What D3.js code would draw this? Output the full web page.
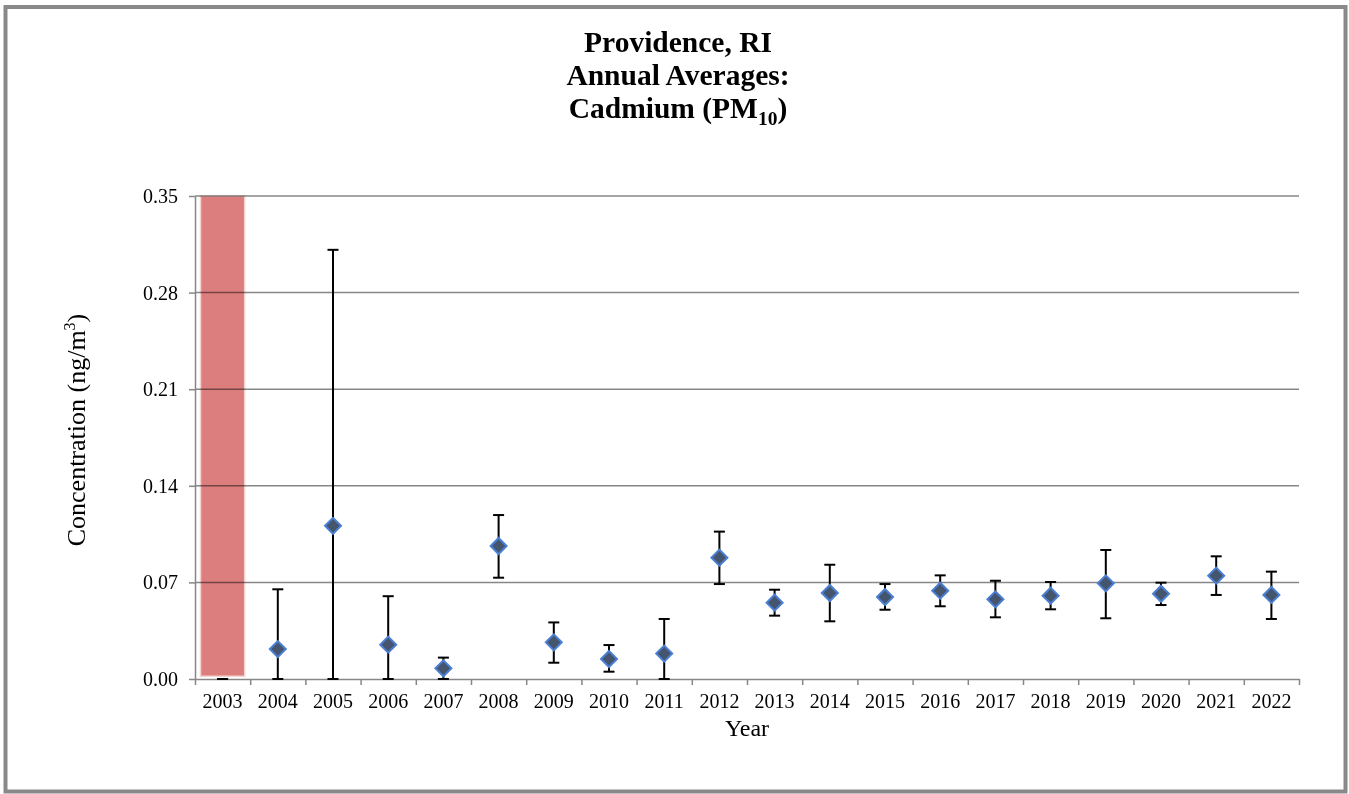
<!DOCTYPE html>
<html>
<head>
<meta charset="utf-8">
<script src="https://cdn.jsdelivr.net/npm/d3@7"></script>
<style>
  html, body { margin: 0; padding: 0; background: #fff; }
  svg { display: block; font-family: "Liberation Serif", "Times New Roman", serif; }
</style>
</head>
<body>
<svg id="chart" width="1349" height="794"></svg>
<script>
// Annual average cadmium (PM10) concentrations, ng/m3, with error bar limits
const years = ["2003","2004","2005","2006","2007","2008","2009","2010","2011","2012",
               "2013","2014","2015","2016","2017","2018","2019","2020","2021","2022"];
const means = [null, 0.0217, 0.111, 0.0249, 0.0077, 0.0964, 0.0266, 0.0145, 0.0184, 0.0879,
               0.0553, 0.0623, 0.0594, 0.064, 0.0577, 0.0604, 0.0693, 0.0618, 0.0749, 0.0609];
const lower = [0, 0, 0, 0, 0, 0.0734, 0.0118, 0.0053, 0, 0.0688,
               0.0459, 0.0418, 0.0502, 0.0527, 0.0447, 0.0505, 0.044, 0.0536, 0.0609, 0.0435];
const upper = [0, 0.065, 0.311, 0.060, 0.0155, 0.1188, 0.041, 0.0246, 0.0435, 0.1068,
               0.0647, 0.0828, 0.0688, 0.0751, 0.0712, 0.0703, 0.0935, 0.0698, 0.0889, 0.0778];
// Year without a full record, shaded across the full axis range
const shadedYears = ["2003"];
const shadeBase = 0.002;
const shadeTop = 0.35;
const yTicks = [0, 0.07, 0.14, 0.21, 0.28, 0.35];

const svg = d3.select("#chart");
const W = 1349, H = 794;
const plot = { left: 195, right: 1299, top: 196, bottom: 679 };

svg.append("rect").attr("width", W).attr("height", H).attr("fill", "#fff");
// outer frame
svg.append("rect")
  .attr("x", 5.5).attr("y", 7).attr("width", 1340).attr("height", 784.5)
  .attr("fill", "none").attr("stroke", "#898989").attr("stroke-width", 4);

const x = d3.scaleBand().domain(years).range([plot.left, plot.right]).padding(0);
const xEdge = d3.scaleLinear().domain([0, years.length]).range([plot.left, plot.right]);
const y = d3.scaleLinear().domain([0, 0.35]).range([plot.bottom, plot.top]);

// shaded bar
svg.append("g").selectAll("rect").data(shadedYears).join("rect")
  .attr("x", d => x(d) + x.bandwidth() * 0.1)
  .attr("width", x.bandwidth() * 0.8)
  .attr("y", y(shadeTop))
  .attr("height", y(shadeBase) - y(shadeTop))
  .attr("fill", "#dd7e7e")
  .attr("stroke", "#f3d2cf").attr("stroke-width", 1.5);

// horizontal gridlines
svg.append("g").selectAll("line").data(yTicks.slice(1)).join("line")
  .attr("x1", plot.left).attr("x2", plot.right)
  .attr("y1", d => y(d)).attr("y2", d => y(d))
  .attr("stroke", "#878787").attr("stroke-width", 1.5)
  .style("mix-blend-mode", "multiply");

// y axis
const yAxis = svg.append("g").attr("transform", `translate(${plot.left},0)`)
  .call(d3.axisLeft(y).tickValues(yTicks).tickFormat(d3.format(".2f"))
        .tickSize(6).tickSizeOuter(0).tickPadding(11));
yAxis.select(".domain").attr("stroke", "#878787").attr("stroke-width", 1.5);
yAxis.selectAll(".tick line").attr("stroke", "#878787").attr("stroke-width", 1.5);
yAxis.selectAll("text").attr("font-size", 20).attr("fill", "#000")
  .attr("font-family", "Liberation Serif");

// x axis: boundary ticks
const xTickAxis = svg.append("g").attr("transform", `translate(0,${plot.bottom})`)
  .call(d3.axisBottom(xEdge).tickValues(d3.range(0, years.length + 1))
        .tickFormat("").tickSize(6).tickSizeOuter(0));
xTickAxis.select(".domain").attr("stroke", "#878787").attr("stroke-width", 1.5);
xTickAxis.selectAll(".tick line").attr("stroke", "#878787").attr("stroke-width", 1.5);

// x axis: category labels
const xAxis = svg.append("g").attr("transform", `translate(0,${plot.bottom})`)
  .call(d3.axisBottom(x).tickSize(0).tickPadding(15));
xAxis.select(".domain").remove();
xAxis.selectAll("text").attr("font-size", 20).attr("fill", "#000")
  .attr("font-family", "Liberation Serif");

// error bars
const rows = years.map((yr, i) => ({ yr, m: means[i], lo: lower[i], hi: upper[i] }));
const cap = 5.5;
const eb = svg.append("g").attr("stroke", "#000").attr("stroke-width", 2);
rows.forEach(r => {
  const cx = x(r.yr) + x.bandwidth() / 2;
  if (r.hi > r.lo) {
    eb.append("line").attr("x1", cx).attr("x2", cx).attr("y1", y(r.lo)).attr("y2", y(r.hi));
  }
  eb.append("line").attr("x1", cx - cap).attr("x2", cx + cap).attr("y1", y(r.hi)).attr("y2", y(r.hi));
  eb.append("line").attr("x1", cx - cap).attr("x2", cx + cap).attr("y1", y(r.lo)).attr("y2", y(r.lo));
});

// diamond markers
svg.append("g").selectAll("path").data(rows.filter(r => r.m !== null)).join("path")
  .attr("d", d3.symbol(d3.symbolSquare, 128)())
  .attr("transform", r => `translate(${x(r.yr) + x.bandwidth() / 2},${y(r.m)}) rotate(45)`)
  .attr("fill", "#46556e")
  .attr("stroke", "#4a7fd4").attr("stroke-width", 2);

// titles
const title = svg.append("text").attr("text-anchor", "middle")
  .attr("font-weight", "bold").attr("font-size", 29.5).attr("fill", "#000");
title.append("tspan").attr("x", 678).attr("y", 52).text("Providence, RI");
title.append("tspan").attr("x", 678).attr("y", 85).text("Annual Averages:");
const t3 = svg.append("text").attr("text-anchor", "middle")
  .attr("font-weight", "bold").attr("font-size", 29.5).attr("fill", "#000")
  .attr("x", 678).attr("y", 118);
t3.append("tspan").text("Cadmium (PM");
t3.append("tspan").attr("font-size", 19.5).attr("dy", 7).text("10");
t3.append("tspan").attr("dy", -7).text(")");

svg.append("text").attr("x", (plot.left + plot.right) / 2).attr("y", 736)
  .attr("text-anchor", "middle").attr("font-size", 24).attr("fill", "#000").text("Year");

const yt = svg.append("text").attr("transform", "translate(85,430) rotate(-90)")
  .attr("text-anchor", "middle").attr("font-size", 26).attr("fill", "#000");
yt.append("tspan").text("Concentration (ng/m");
yt.append("tspan").attr("font-size", 16).attr("dy", -10).text("3");
yt.append("tspan").attr("dy", 10).text(")");
</script>
</body>
</html>
